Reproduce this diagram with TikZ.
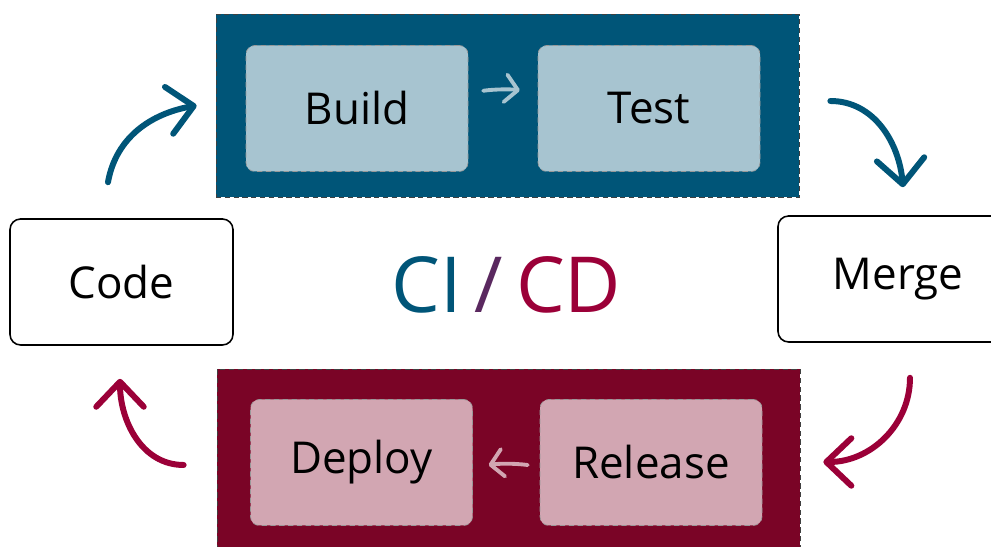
\documentclass[tikz,border=0pt]{standalone}
\usepackage{fontspec}
\setmainfont{Open Sans}
\usepackage{tikz}
\usetikzlibrary{arrows.meta,positioning}
\definecolor{bleuCI}{RGB}{0,85,120}
\definecolor{bleuClair}{RGB}{167,196,208}
\definecolor{rougeCD}{RGB}{122,4,38}
\definecolor{rougeFleche}{RGB}{155,0,56}
\definecolor{roseClair}{RGB}{210,166,178}
\definecolor{violetSlash}{RGB}{90,40,95}

\begin{document}
\begin{tikzpicture}[
  panneau/.style={draw=black!75, densely dashed, line width=0.4pt,
                  minimum width=11.66cm, inner sep=0pt},
  etape/.style={rounded corners=5pt, draw=black!40, densely dashed, line width=0.4pt,
                minimum width=4.44cm, minimum height=2.52cm,
                font=\fontsize{25}{30}\selectfont},
  boite/.style={rounded corners=6pt, draw=black, line width=0.9pt,
                minimum height=2.52cm, font=\fontsize{25}{30}\selectfont},
  grandeFleche/.style={line width=3.4pt, line cap=round,
                       -{Straight Barb[round, length=0.5cm, width=0.95cm]}},
  petiteFleche/.style={line width=2.2pt, line cap=round,
                       -{Straight Barb[round, length=0.25cm, width=0.55cm]}}
]
\useasboundingbox (0,0) rectangle (19.82,10.94);
\clip (0,0) rectangle (19.82,10.94);

% panneaux CI et CD
\node[panneau, fill=bleuCI, minimum height=3.66cm] (ciPanel) at (10.15,8.83) {};
\node[panneau, fill=rougeCD, minimum height=3.56cm] (cdPanel) at (10.17,1.78) {};

% etapes
\node[etape, fill=bleuClair] (build) at (7.14,8.77) {Build};
\node[etape, fill=bleuClair] (test) at (12.98,8.77) {Test};
\node[etape, fill=roseClair] (deploy) at (7.23,1.69) {Deploy};
\node[etape, fill=roseClair] (release) at (13.02,1.69) {Release};

\node[boite, minimum width=4.46cm] (code) at (2.43,5.30) {Code};
\node[boite, minimum width=4.8cm] (merge) at (17.96,5.36) {Merge};

\node[anchor=base, font=\fontsize{44}{50}\selectfont] (titre) at (10.13,4.68)
  {\textcolor{bleuCI}{CI}\,\textcolor{violetSlash}{/}\,\textcolor{rougeFleche}{CD}};

% fleches internes
\draw[petiteFleche, bleuClair, shorten <=0.3cm, shorten >=0.36cm]
  (build) to[bend left=8] (test);
\draw[petiteFleche, roseClair, shorten <=0.24cm, shorten >=0.32cm]
  ([yshift=-0.08cm]release.west) to[bend right=8] ([yshift=-0.1cm]deploy.east);

% cycle
\draw[grandeFleche, bleuCI] ([shift={(-0.27,0.72)}]code.north)
  to[out=80, in=190] ([xshift=-0.38cm]ciPanel.west);
\draw[grandeFleche, bleuCI] ([shift={(0.62,0.09)}]ciPanel.east)
  to[out=0, in=95] ([shift={(0.1,0.56)}]merge.north);
\draw[grandeFleche, rougeFleche] ([shift={(0.24,-0.7)}]merge.south)
  to[out=-90, in=0] ([shift={(0.46,-0.08)}]cdPanel.east);
\draw[grandeFleche, rougeFleche] ([shift={(-0.66,-0.14)}]cdPanel.west)
  to[out=180, in=-90] ([shift={(-0.03,-0.66)}]code.south);

\end{tikzpicture}
\end{document}
